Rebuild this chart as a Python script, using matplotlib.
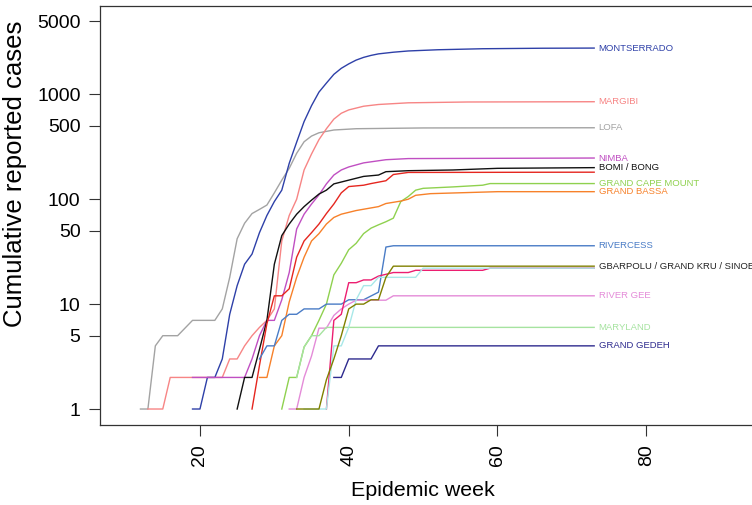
import matplotlib
matplotlib.use("Agg")
import matplotlib.pyplot as plt

plt.rcParams['font.family'] = ['Liberation Sans', 'DejaVu Sans']

# weekly cumulative counts (week, cases)
lofa_weeks = [12, 13, 14, 15, 17, 19, 22, 23, 24, 25, 26, 27, 28, 29, 30, 31, 32, 33, 34, 35, 36, 38, 41, 50, 73]
lofa_cases = [1, 1, 4, 5, 5, 7, 7, 9, 18, 42, 59, 73, 80, 88, 115, 152, 197, 274, 353, 400, 430, 457, 470, 478, 480]

margibi_weeks = [13, 15, 16, 23, 24, 25, 26, 27, 28, 29, 30, 31, 32, 33, 34, 35, 36, 37, 38, 39, 40, 42, 44, 48, 56, 73]
margibi_cases = [1, 1, 2, 2, 3, 3, 4, 5, 6, 7, 9, 40, 70, 100, 190, 270, 370, 470, 580, 660, 710, 770, 800, 830, 845, 850]

montserrado_weeks = [19, 20, 21, 22, 23, 24, 25, 26, 27, 28, 29, 30, 31, 32, 33, 34, 35, 36, 37, 38, 39, 40,
                     41, 42, 43, 44, 46, 48, 52, 58, 66, 73]
montserrado_cases = [1, 1, 2, 2, 3, 8, 15, 24, 30, 48, 70, 95, 122, 220, 350, 550, 780, 1050, 1280, 1550, 1770, 1950,
                     2120, 2250, 2350, 2430, 2520, 2590, 2660, 2720, 2750, 2760]

nimba_weeks = [19, 26, 27, 28, 29, 30, 31, 32, 33, 34, 35, 36, 37, 38, 39, 40, 42, 45, 48, 73]
nimba_cases = [2, 2, 3, 5, 7, 7, 11, 20, 52, 72, 90, 110, 140, 170, 190, 203, 222, 238, 244, 247]

bomi_weeks = [25, 26, 27, 28, 29, 30, 31, 32, 33, 34, 35, 36, 37, 38, 40, 42, 44, 45, 48, 54, 60, 73]
bomi_cases = [1, 2, 2, 3.7, 7, 24, 45, 58, 72, 85, 98, 112, 122, 140, 152, 165, 170, 183, 187, 190, 197, 200]

bong_weeks = [27, 28, 29, 30, 31, 32, 33, 34, 35, 36, 37, 38, 39, 40, 42, 43, 45, 46, 48, 73]
bong_cases = [1, 2.6, 6.5, 12, 12, 14, 28, 40, 48, 58, 73, 90, 115, 132, 136, 141, 150, 172, 180, 181]

cape_mount_weeks = [31, 32, 33, 34, 35, 36, 37, 38, 39, 40, 41, 42, 43, 44, 45, 46, 47, 48, 49, 50, 54, 58, 59, 73]
cape_mount_cases = [1, 2, 2, 3.9, 5, 7, 10, 19, 24.5, 33, 38, 47, 53, 57, 61, 66, 95, 106, 122, 127, 131, 136, 141, 141]

bassa_weeks = [28, 29, 30, 31, 32, 33, 34, 35, 36, 37, 38, 39, 41, 44, 45, 47, 48, 49, 51, 60, 73]
bassa_cases = [2, 2, 4, 5, 10.5, 18, 28, 40, 47, 58, 67, 72, 78, 85, 91, 96, 100, 109, 113, 118, 118]

rivercess_weeks = [28, 29, 30, 31, 32, 33, 34, 36, 37, 39, 40, 42, 44, 45, 46, 73]
rivercess_cases = [3, 4, 4, 7, 8, 8, 9, 9, 10, 10, 11, 11, 13, 35, 36, 36]

gbarpolu_weeks = [33, 36, 37, 38, 39, 40, 41, 42, 43, 44, 45, 46, 73]
gbarpolu_cases = [1, 1, 1.9, 3, 5, 9, 10, 10, 11, 11, 18, 23, 23]

grand_kru_weeks = [34, 37, 38, 39, 40, 41, 42, 43, 44, 49, 50, 73]
grand_kru_cases = [1, 1, 4, 4, 6, 11, 15, 15, 18, 18, 22, 22]

sinoe_weeks = [37, 38, 39, 40, 41, 42, 43, 44, 46, 48, 49, 58, 59, 73]
sinoe_cases = [1, 7, 8, 16, 16, 17, 17, 18.5, 20, 20, 21, 21, 22, 22]

river_gee_weeks = [32, 33, 34, 35, 36, 37, 38, 39, 40, 41, 45, 46, 73]
river_gee_cases = [1, 1, 2, 3.2, 5.9, 5.9, 7.8, 9, 10, 10.9, 10.9, 12, 12]

maryland_weeks = [33, 34, 35, 36, 37, 73]
maryland_cases = [2, 3.9, 5, 5, 6, 6]

grand_gedeh_weeks = [38, 39, 40, 43, 44, 73]
grand_gedeh_cases = [2, 2, 3, 3, 4, 4]

# (weeks, cases, colour)
series = [
    (lofa_weeks, lofa_cases, '#a3a3a3'),
    (margibi_weeks, margibi_cases, '#f78585'),
    (montserrado_weeks, montserrado_cases, '#2e40a8'),
    (nimba_weeks, nimba_cases, '#c04fc2'),
    (bomi_weeks, bomi_cases, '#111111'),
    (bong_weeks, bong_cases, '#e5261f'),
    (cape_mount_weeks, cape_mount_cases, '#8fd14f'),
    (bassa_weeks, bassa_cases, '#f7812a'),
    (rivercess_weeks, rivercess_cases, '#4a7cc6'),
    (river_gee_weeks, river_gee_cases, '#e48bd8'),
    (maryland_weeks, maryland_cases, '#a6e3a0'),
    (grand_gedeh_weeks, grand_gedeh_cases, '#2d2a8e'),
    (sinoe_weeks, sinoe_cases, '#ec1e70'),
    (grand_kru_weeks, grand_kru_cases, '#a8e8e8'),
    (gbarpolu_weeks, gbarpolu_cases, '#808000'),
]

# label text, value it sits at, colour
labels = [
    ('MONTSERRADO', montserrado_cases[-1], '#2e40a8'),
    ('MARGIBI', margibi_cases[-1], '#f78585'),
    ('LOFA', lofa_cases[-1], '#a3a3a3'),
    ('NIMBA', nimba_cases[-1], '#c04fc2'),
    ('BOMI / BONG', bomi_cases[-1], '#111111'),
    ('GRAND CAPE MOUNT', cape_mount_cases[-1], '#8fd14f'),
    ('GRAND BASSA', bassa_cases[-1], '#f7812a'),
    ('RIVERCESS', rivercess_cases[-1], '#4a7cc6'),
    ('GBARPOLU / GRAND KRU / SINOE', gbarpolu_cases[-1], '#222222'),
    ('RIVER GEE', river_gee_cases[-1], '#e48bd8'),
    ('MARYLAND', maryland_cases[-1], '#a6e3a0'),
    ('GRAND GEDEH', grand_gedeh_cases[-1], '#2d2a8e'),
]

y_ticks = [1, 5, 10, 50, 100, 500, 1000, 5000]
x_ticks = [20, 40, 60, 80]

fig = plt.figure(figsize=(7.52, 5.05), dpi=100)
# axes box runs off the right edge of the picture, as in the original
ax = fig.add_axes([100 / 752, 80 / 505, 695 / 752, 419 / 505])

for weeks, cases, colour in series:
    ax.plot(weeks, cases, color=colour, lw=1.0)

for text, value, colour in labels:
    ax.text(73.6, value, text, color=colour, fontsize=6.8, va='center', ha='left', clip_on=False)

ax.set_yscale('log')
ax.set_xlim(6.56, 100)
ax.set_ylim(0.704, 6950)
ax.set_yticks(y_ticks)
ax.set_yticklabels([str(t) for t in y_ticks])
ax.minorticks_off()
ax.set_xticks(x_ticks)
ax.set_xticklabels([str(t) for t in x_ticks], rotation=90)
ax.tick_params(length=8, width=0.8, color='#333333', labelsize=14, pad=6)

for side in ax.spines.values():
    side.set_linewidth(0.9)
    side.set_color('#333333')

ax.set_xlabel('Epidemic week', fontsize=15.4)
ax.set_ylabel('Cumulative reported cases', fontsize=18.5)
ax.xaxis.set_label_coords(0.465, -0.157)
ax.yaxis.set_label_coords(-0.122, 0.60)
ax.xaxis.label.set_va('center')
ax.yaxis.label.set_va('center')

fig.savefig('out.png', dpi=100)
